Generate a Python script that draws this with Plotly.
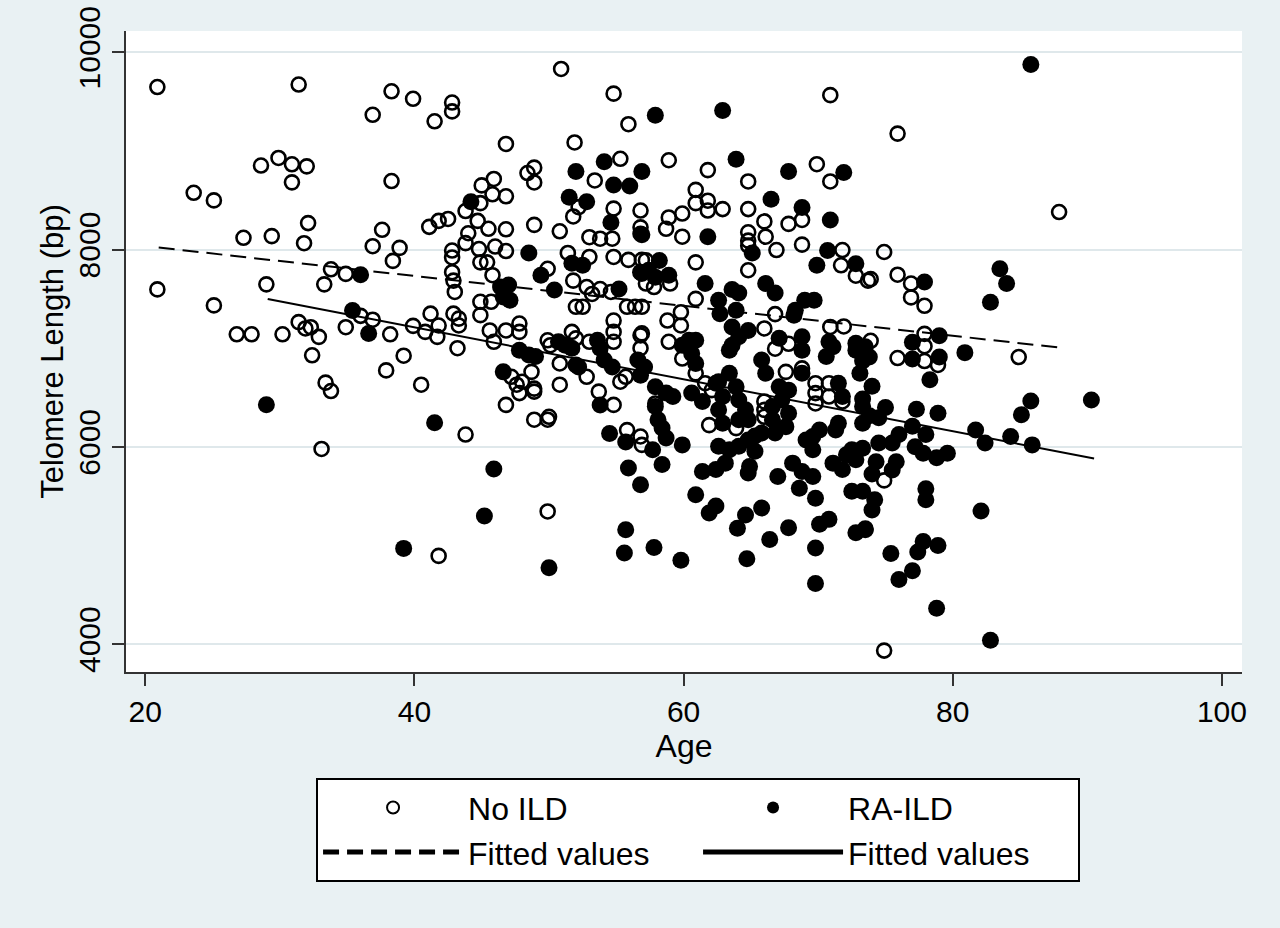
import plotly.graph_objects as go

# ---- No ILD (hollow circles) ----
noild_age = [
    20.9, 31.4, 38.3, 39.9, 36.9, 28.6, 29.9, 30.9, 32.0, 30.9, 38.3, 23.6, 25.1, 32.1, 27.3, 29.4,
    31.8, 37.6, 36.9, 38.9, 38.4, 20.9, 29.0, 25.1, 33.8, 34.9, 33.3, 26.8, 27.9, 30.2, 31.4, 31.9,
    32.3, 32.9, 32.4, 34.9, 36.0, 36.9, 38.2, 39.9, 39.2, 37.9, 40.5, 33.4, 33.8, 33.1,
    41.5, 42.8, 42.8, 41.1, 41.8, 42.5, 43.8, 44.9, 44.0, 43.8, 44.8, 46.0, 46.8, 42.8, 42.8, 44.7,
    45.5, 46.8, 45.0, 45.9, 45.8, 46.8, 46.8, 48.4, 48.9, 48.9, 48.9, 50.8, 51.8, 52.2, 54.8, 56.8,
    53.0, 53.8, 54.7, 51.4, 53.0, 54.8, 55.9, 56.9, 56.8, 56.8, 44.9, 45.4, 50.9, 54.8, 55.9, 51.9,
    55.3, 53.4,
    42.8, 42.9, 43.0, 45.8, 44.9, 44.9, 45.7, 49.9, 51.8, 52.8, 53.2, 53.8, 54.6, 52.0, 52.5, 55.8,
    56.4, 56.9, 54.8, 54.8, 54.8, 56.8, 56.8, 41.2, 41.8, 40.8, 41.7, 42.9, 43.3, 43.3, 43.2, 45.6,
    46.8, 47.8, 47.8, 45.9, 49.9, 50.1, 51.7, 52.0, 53.0, 48.7, 48.0, 48.9, 47.2, 47.6, 47.8,
    48.9, 46.8, 50.8, 50.8, 52.8, 53.7, 54.8, 55.3, 55.7, 48.9, 49.9, 50.0, 43.8, 55.8, 56.8,
    49.9, 41.8,
    70.9, 58.9, 61.8, 69.9, 70.9, 64.8, 60.9, 60.9, 61.8, 61.8, 62.9, 58.9, 59.9, 58.7, 59.9, 64.8,
    64.8, 64.8, 64.8, 66.0, 66.1, 66.9, 67.8, 68.8, 68.8, 71.8, 71.7, 72.8, 73.7, 60.9, 64.8, 57.2,
    56.9, 57.8, 59.0, 57.2, 60.9, 58.8, 59.8, 59.8, 66.8, 66.0, 70.9, 71.9, 56.9, 58.9,
    59.9, 60.9, 61.9, 63.9, 61.6, 62.1, 66.0, 66.0, 66.0, 67.6, 66.8, 67.8, 68.8, 69.8, 69.8, 69.8,
    70.8, 70.8, 71.8, 56.9, 57.9,
    75.9, 87.9, 74.9, 73.9, 75.9, 76.9, 76.9, 77.9, 73.9, 77.9, 77.9, 77.9, 78.9, 75.9, 84.9, 74.9,
    74.9,
]
noild_tl = [
    9647, 9672, 9604, 9528, 9366, 8851, 8928, 8864, 8843, 8681, 8694, 8575, 8498, 8268, 8119, 8136,
    8064, 8200, 8034, 8017, 7885, 7596, 7647, 7434, 7800, 7753, 7647, 7141, 7141, 7141, 7264, 7200,
    7213, 7115, 6928, 7213, 7328, 7289, 7141, 7226, 6924, 6775, 6630, 6651, 6566, 5979,
    9300, 9490, 9400, 8230, 8290, 8310, 8390, 8470, 8165, 8065, 8005, 8030, 7985, 7990, 7920, 8290,
    8210, 8205, 8650, 8715, 8560, 8540, 9070, 8775, 8830, 8680, 8250, 8185, 8335, 8430, 8415, 8395,
    8125, 8110, 8110, 7965, 7925, 7925, 7895, 7895, 8225, 8160, 7870, 7870, 9830, 9580, 9270, 9085,
    8920, 8700,
    7770, 7685, 7570, 7740, 7470, 7335, 7470, 7805, 7685, 7620, 7550, 7600, 7570, 7420, 7420, 7420,
    7420, 7420, 7280, 7165, 7065, 7130, 7000, 7350, 7230, 7165, 7115, 7350, 7300, 7230, 7000, 7180,
    7180, 7250, 7165, 7065, 7080, 7030, 7165, 7100, 7065, 6760, 6660, 6590, 6710, 6630, 6545,
    6560, 6425, 6845, 6630, 6710, 6560, 6425, 6660, 6710, 6275, 6275, 6305, 6125, 6170, 6105,
    5345, 4895,
    9565, 8905, 8805, 8865, 8690, 8690, 8605, 8470, 8495, 8395, 8410, 8325, 8365, 8210, 8130, 8410,
    8175, 8090, 8040, 8285, 8130, 7995, 8260, 8300, 8050, 7995, 7840, 7735, 7685, 7870, 7790, 7890,
    7755, 7620, 7655, 7655, 7500, 7280, 7365, 7230, 7345, 7200, 7215, 7220, 7150, 7065,
    6895, 6745, 6220, 6190, 6645, 6575, 6460, 6375, 6305, 6760, 6995, 7045, 6795, 6645, 6545, 6440,
    6645, 6510, 6460, 6020, 6440,
    9175, 8380, 7975, 7700, 7745, 7655, 7515, 7430, 7075, 7145, 7020, 6870, 6830, 6900, 6910, 5660,
    3935,
]

# ---- RA-ILD (filled circles) ----
raild_age = [
    36.0, 35.4, 36.6, 29.0, 39.2,
    41.5, 44.2, 45.9, 45.2, 50.0, 48.5, 54.1, 52.0, 54.8, 56.0, 56.9, 51.5, 52.8, 54.6, 56.9, 57.9,
    51.7, 52.5,
    49.4, 50.4, 46.4, 47.0, 46.6, 47.1, 55.2, 56.8, 47.8, 48.5, 49.0, 46.6, 50.7, 51.2, 51.7, 52.0,
    52.2, 53.6, 53.8, 54.1, 54.7, 56.6, 56.8, 53.8, 54.5, 55.7,
    55.9, 56.8, 55.7, 55.6, 57.8,
    62.9, 63.9, 67.8, 71.9, 66.5, 68.8, 70.9, 61.8, 65.1, 70.7, 69.9, 72.8, 58.2, 58.9, 57.4, 57.9,
    61.6, 63.6, 64.1, 66.1, 66.8, 69.0, 69.7, 68.3, 62.6, 62.7, 63.9, 60.4, 60.9, 63.6, 64.1, 64.8,
    63.6, 67.1, 68.8, 68.2, 70.8, 72.8,
    57.1, 57.9, 58.7, 59.2, 57.9, 58.1, 58.4, 58.7, 59.9, 57.7, 58.4, 60.9, 61.9, 62.4, 64.0, 64.6,
    65.8, 66.4, 67.8, 69.8, 70.1, 70.8, 69.8, 69.8, 59.8, 64.7, 72.8, 73.5, 72.5, 61.4, 62.4, 63.1,
    62.6, 63.4, 64.1, 64.8, 65.3, 64.8, 64.9, 67.0, 68.1, 68.8, 68.6, 69.6, 69.1, 69.6, 70.1, 69.6,
    71.1, 71.8, 72.5, 72.8, 72.1, 71.5, 71.3, 73.3, 73.3, 73.1, 72.8, 73.5, 70.6, 71.1, 71.5, 71.8,
    68.8, 68.8, 67.8, 67.3, 67.8, 67.6, 66.6, 66.8, 66.6, 67.1, 65.8, 66.1, 63.4, 63.4, 63.9, 62.6,
    62.9, 62.6, 62.9, 64.1, 64.6, 64.8, 64.1, 60.6, 61.4, 62.4, 59.9, 60.6, 60.9, 65.8, 65.3,
    85.8, 83.5, 84.0, 82.8, 77.9, 77.0, 79.0, 79.0, 77.0, 80.9, 78.3, 90.3, 85.8, 85.1, 73.3, 73.8,
    74.0, 73.3, 75.0, 73.8, 74.5, 77.3, 78.9, 77.0, 78.0, 81.7, 82.4, 84.3, 85.9, 74.5, 75.5, 76.0,
    77.2, 77.8, 78.8, 79.6, 73.3, 74.3, 74.0, 75.8, 75.5, 73.3, 74.2, 74.0, 73.5, 78.0, 78.0, 82.1,
    75.4, 76.0, 77.0, 77.8, 77.4, 78.9, 78.8, 82.8,
]
raild_tl = [
    7745, 7383, 7149, 6426, 4971,
    6245, 8485, 5775, 5300, 4775, 7965, 8890, 8790, 8655, 8645, 8790, 8530, 8485, 8275, 8150, 9360,
    7860, 7840,
    7740, 7590, 7620, 7640, 7520, 7485, 7600, 7770, 6980, 6930, 6915, 6760, 7065, 7030, 7000, 6830,
    6810, 7080, 7000, 6880, 6810, 6880, 6725, 6425, 6135, 6050,
    5785, 5615, 5160, 4925, 4980,
    9410, 8915, 8790, 8780, 8510, 8425, 8300, 8130, 7965, 7990, 7840, 7855, 7890, 7740, 7790, 7720,
    7655, 7595, 7560, 7655, 7560, 7485, 7485, 7385, 7485, 7350, 7385, 7080, 7080, 7215, 7115, 7180,
    7030, 7100, 7115, 7335, 7065, 7050,
    6810, 6610, 6545, 6510, 6410, 6275, 6190, 6090, 6020, 5970, 5820, 5515, 5330, 5400, 5175, 5310,
    5380, 5060, 5180, 5480, 5215, 5265, 4975, 4615, 4850, 4865, 5130, 5160, 5550, 5750, 5770, 5835,
    6005, 5970, 6005, 6070, 5955, 5735, 5800, 5700, 5835, 5750, 5580, 5700, 6070, 5970, 6170, 6105,
    5835, 5770, 5970, 5870, 5920, 6240, 6170, 6240, 6410, 6745, 6980, 7015, 6915, 7015, 6645, 6510,
    6745, 6980, 6575, 6475, 6340, 6205, 6275, 6140, 6410, 6610, 6880, 6745, 6980, 6745, 6610, 6660,
    6510, 6375, 6240, 6475, 6375, 6275, 6275, 6545, 6460, 6645, 7030, 6945, 6845, 6140, 6110,
    9875, 7805, 7655, 7465, 7670, 7060, 7125, 6910, 6890, 6955, 6680, 6475, 6465, 6325, 6870, 6910,
    6615, 6485, 6400, 6315, 6295, 6380, 6340, 6210, 6125, 6170, 6040, 6105, 6020, 6040, 6040, 6125,
    6000, 5935, 5890, 5935, 5985, 5850, 5725, 5850, 5765, 5550, 5465, 5360, 5170, 5575, 5465, 5350,
    4920, 4655, 4745, 5040, 4935, 5000, 4365, 4040,
]

# ---- Fitted lines (endpoints) ----
fit_noild_age = [21.0, 88.0]
fit_noild_tl = [8020, 7005]
fit_raild_age = [29.1, 90.5]
fit_raild_tl = [7498, 5882]

x_ticks = [20, 40, 60, 80, 100]
y_ticks = [4000, 6000, 8000, 10000]
y_tick_labels = ["4000", "6000", "8000", "10000"]

FONT = "Liberation Sans, Arial, Helvetica, sans-serif"
BG = "#e9f1f3"
GRID = "#dfe8eb"

fig = go.Figure()
fig.add_trace(go.Scatter(
    x=noild_age, y=noild_tl, mode="markers", name="No ILD",
    marker=dict(symbol="circle-open", size=14, color="black", line=dict(width=2.6, color="black")),
))
fig.add_trace(go.Scatter(
    x=raild_age, y=raild_tl, mode="markers", name="RA-ILD",
    marker=dict(symbol="circle", size=17, color="black", line=dict(width=0)),
))
fig.add_trace(go.Scatter(
    x=fit_noild_age, y=fit_noild_tl, mode="lines", name="Fitted values",
    line=dict(color="black", width=2, dash="16px,8px"),
))
fig.add_trace(go.Scatter(
    x=fit_raild_age, y=fit_raild_tl, mode="lines", name="Fitted values",
    line=dict(color="black", width=2),
))

fig.update_layout(
    width=1280, height=928,
    margin=dict(l=126, r=38, t=31, b=256),
    paper_bgcolor=BG, plot_bgcolor="white",
    font=dict(family=FONT, size=30, color="black"),
    showlegend=True,
    legend=dict(
        orientation="h", x=0.1703, xanchor="left", y=-0.1657, yanchor="top",
        bgcolor="white", bordercolor="black", borderwidth=2,
        itemwidth=140, entrywidth=225, font=dict(size=32),
        traceorder="normal", itemsizing="constant",
    ),
    xaxis=dict(
        range=[18.57, 101.49], tickvals=x_ticks, ticks="outside", ticklen=12, tickwidth=2,
        tickcolor="#333", showline=True, linecolor="#333", linewidth=2, showgrid=False,
        zeroline=False, automargin=False,
        title=dict(text="Age", standoff=2, font=dict(size=32)),
        tickfont=dict(size=30),
    ),
    yaxis=dict(
        range=[3718, 10215], tickvals=y_ticks, ticktext=y_tick_labels, ticks="outside",
        ticklen=12, tickwidth=2, tickcolor="#333", showline=True, linecolor="#333", linewidth=2,
        showgrid=True, gridcolor=GRID, gridwidth=1.5, zeroline=False, tickangle=-90,
        automargin=False,
        title=dict(text="Telomere Length (bp)", standoff=0, font=dict(size=31)),
        tickfont=dict(size=30),
    ),
)

fig.write_html(
    "out.html",
    config={"displayModeBar": False},
    post_script="document.body.style.margin='0';document.body.style.background='%s';" % BG,
)
